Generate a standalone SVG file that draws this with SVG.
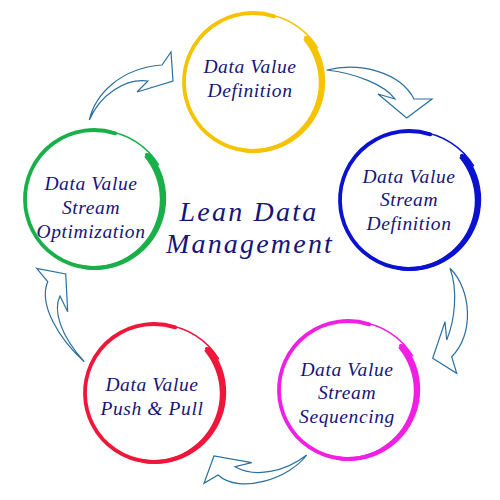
<svg xmlns="http://www.w3.org/2000/svg" xmlns:xlink="http://www.w3.org/1999/xlink" width="500" height="500" viewBox="0 0 500 500">
<style>
.lbl{font-family:"Liberation Serif","Times New Roman",serif;font-style:italic;font-size:19.5px;letter-spacing:0.6px;fill:#15157a;text-anchor:middle}
.title{font-family:"Liberation Serif","Times New Roman",serif;font-style:italic;font-size:28px;letter-spacing:2.2px;fill:#15157a;text-anchor:middle}
.arr{fill:#ffffff;stroke:#2b6f9e;stroke-width:1.2;stroke-linejoin:miter}
.ring path{fill:none;stroke:currentColor}
.ring path.thick{fill:currentColor;stroke:none}
</style>
<defs>
<g id="ring" class="ring">
<path d="M52.86,-44.35 A69,69 0 1 1 21.32,-65.63" stroke-width="3.8" stroke-linecap="round"/>
<path class="thick" d="M55.46,-46.54 A72.4,72.4 0 0 1 68.03,-24.76 A72.3,72.3 0 0 1 72.2,0 A72.1,72.1 0 0 1 67.66,24.62 A71.8,71.8 0 0 1 54.92,46.09 A71.5,71.5 0 0 1 35.7,61.83 A71.2,71.2 0 0 1 12.34,70.02 A71,71 0 0 1 -12.31,69.82 L-11.65,66.08 A67,67 0 0 0 11.61,65.88 A66.8,66.8 0 0 0 33.3,57.68 A66.5,66.5 0 0 0 50.79,42.62 A66.2,66.2 0 0 0 62.02,22.57 A65.9,65.9 0 0 0 65.8,0 A65.7,65.7 0 0 0 61.64,-22.44 A65.6,65.6 0 0 0 50.25,-42.17 Z"/>
<path d="M11.98,-67.95 A71,71 0 0 1 64.45,-34.27" stroke-width="1.6" stroke-linecap="round"/>
</g>
</defs>
<g id="connectors">
<path class="arr" d="M89.3,120 C95,95 120,68 162,65 L171,52 L173,81 L137,92 L148,81 C125,78 100,95 89.3,120 Z"/>
<path class="arr" d="M326.7,70 C360,62 400,72 414,99 L432,99 L406.7,118 L378,94 L395,99 C385,85 355,73 326.7,70 Z"/>
<path class="arr" d="M450,268.3 C472,290 474,335 451.7,356.7 L456.7,373.3 L432.7,358.3 L445,321.7 L446.7,340 C455,320 458,290 450,268.3 Z"/>
<path class="arr" d="M306.7,455 C290,478 240,495 218,475 L204,483.3 L214,456 L251.7,462.7 L235,466.7 C255,478 285,472 306.7,455 Z"/>
<path class="arr" d="M84.3,361.7 C60,340 38,305 47.7,281.7 L36.7,268.3 L65.7,274 L67.7,311.7 L60,296 C53,310 60,335 84.3,361.7 Z"/>
</g>
<g id="node-definition">
<use xlink:href="#ring" transform="translate(253,82)" style="color:#f5c300"/>
<text class="lbl" x="250" y="73">Data Value</text>
<text class="lbl" x="250" y="97">Definition</text>
</g>
<g id="node-stream-definition">
<use xlink:href="#ring" transform="translate(409,200)" style="color:#0a12d0"/>
<text class="lbl" x="409" y="183">Data Value</text>
<text class="lbl" x="409" y="206">Stream</text>
<text class="lbl" x="409" y="230">Definition</text>
</g>
<g id="node-sequencing">
<use xlink:href="#ring" transform="translate(348,390)" style="color:#f01fe3"/>
<text class="lbl" x="347" y="376">Data Value</text>
<text class="lbl" x="347" y="399">Stream</text>
<text class="lbl" x="347" y="423">Sequencing</text>
</g>
<g id="node-push-pull">
<use xlink:href="#ring" transform="translate(154,393)" style="color:#f0163a"/>
<text class="lbl" x="152" y="391">Data Value</text>
<text class="lbl" x="152" y="415">Push &amp; Pull</text>
</g>
<g id="node-optimization">
<use xlink:href="#ring" transform="translate(94,199)" style="color:#19b04a"/>
<text class="lbl" x="91" y="190">Data Value</text>
<text class="lbl" x="91" y="214">Stream</text>
<text class="lbl" x="91" y="238">Optimization</text>
</g>
<g id="title">
<text class="title" x="249" y="221">Lean Data</text>
<text class="title" x="250" y="253">Management</text>
</g>
</svg>
